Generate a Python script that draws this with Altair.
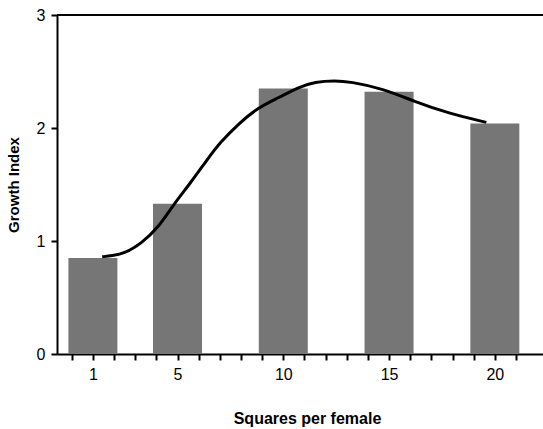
import altair as alt
import pandas as pd

# Bar data
squares = [1, 5, 10, 15, 20]
growth = [0.85, 1.33, 2.35, 2.32, 2.04]

# Fitted curve points
curve_x = [1.44, 1.9, 2.5, 3.3, 4.1, 4.8, 5.6, 6.4, 7.0, 7.9, 8.8, 9.8, 10.7,
           11.5, 12.45, 13.15, 14.7, 16.25, 17.8, 19.6]
curve_y = [0.86, 0.87, 0.89, 0.98, 1.12, 1.32, 1.51, 1.72, 1.87, 2.04, 2.18,
           2.27, 2.36, 2.41, 2.42, 2.41, 2.35, 2.23, 2.13, 2.05]

tick_values = list(range(0, 22))
label_values = [1, 5, 10, 15, 20]
y_ticks = [0, 1, 2, 3]

bars_df = pd.DataFrame({"x": squares, "y": growth})
curve_df = pd.DataFrame({"x": curve_x, "y": curve_y})

FONT = "Liberation Sans"
W, H = 486, 339

xscale = alt.Scale(domain=[-0.46, 22.04], nice=False, zero=False)
yscale = alt.Scale(domain=[0, 3], nice=False)

label_expr = ("indexof([" + ",".join(str(v) for v in label_values) +
              "], datum.value) >= 0 ? format(datum.value, 'd') : ''")

x_axis = alt.Axis(values=tick_values, labelExpr=label_expr,
                  labelOverlap=False, tickCount=22,
                  title="Squares per female", grid=False,
                  domainColor="black", domainWidth=2,
                  tickColor="black", tickWidth=2, tickSize=6,
                  labelFont=FONT, labelFontSize=16, labelColor="black",
                  labelPadding=6, labelFlush=False,
                  titleFont=FONT, titleFontSize=16, titleFontWeight="bold",
                  titleColor="black", titleX=250, titleY=69,
                  titleBaseline="alphabetic")
y_axis = alt.Axis(values=y_ticks, format="d", title="Growth Index",
                  grid=False, labelOverlap=False,
                  domainColor="black", domainWidth=2,
                  tickColor="black", tickWidth=2, tickSize=6,
                  labelFont=FONT, labelFontSize=16, labelColor="black",
                  labelPadding=6, labelFlush=False,
                  titleFont=FONT, titleFontSize=15, titleFontWeight="bold",
                  titleColor="black", titleX=-36)

bars = alt.Chart(bars_df).mark_bar(size=49, color="#767676").encode(
    x=alt.X("x:Q", scale=xscale, axis=x_axis),
    y=alt.Y("y:Q", scale=yscale, axis=y_axis),
)

curve = alt.Chart(curve_df).mark_line(color="black", strokeWidth=3,
                                      interpolate="basis").encode(
    x=alt.X("x:Q", scale=xscale, axis=x_axis),
    y=alt.Y("y:Q", scale=yscale, axis=y_axis),
)

top_line = alt.Chart(pd.DataFrame({"y": [3]})).mark_rule(color="black", strokeWidth=2).encode(
    y=alt.Y("y:Q", scale=yscale, axis=y_axis),
    x=alt.value(0),
    x2=alt.value(W),
)

chart = alt.layer(bars, curve, top_line).properties(
    width=W, height=H,
    padding={"left": 57, "top": 15, "right": 0, "bottom": 75},
    autosize=alt.AutoSizeParams(type="none"),
    background="white",
).configure_view(stroke=None)

chart.save("out.html", embed_options={"renderer": "svg", "actions": False})
